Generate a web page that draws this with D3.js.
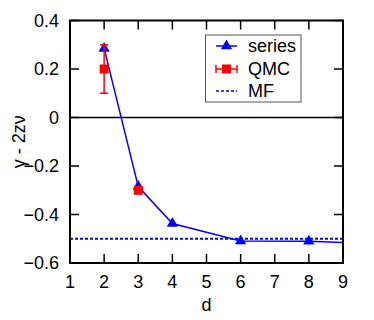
<!DOCTYPE html>
<meta charset="utf-8">
<style>
  body { margin: 0; background: #fff; }
  text { font-family: "Liberation Sans", Arial, sans-serif; font-size: 18px; fill: #000; }
</style>
<svg width="374" height="320"></svg>
<script src="https://cdnjs.cloudflare.com/ajax/libs/d3/7.8.5/d3.min.js"></script>
<script>
// data
var seriesD = [2, 3, 4, 6, 8, 10];
var seriesV = [0.285, -0.285, -0.437, -0.509, -0.51, -0.52];
var qmcD = [2, 3];
var qmcV = [0.2, -0.30];
var qmcErr = [0.1, 0.008];
var mfValue = -0.5;
var xTicks = [1, 2, 3, 4, 5, 6, 7, 8, 9];
var yTicks = [0.4, 0.2, 0, -0.2, -0.4, -0.6];

var svg = d3.select("svg"),
    pLeft = 70, pRight = 343, pTop = 20.5, pBottom = 263;

var x = d3.scaleLinear().domain([1, 9]).range([pLeft, pRight]);
var y = d3.scaleLinear().domain([-0.6, 0.4]).range([pBottom, pTop]);

svg.append("defs").append("clipPath").attr("id", "plotclip")
  .append("rect").attr("x", pLeft).attr("y", pTop)
  .attr("width", pRight - pLeft).attr("height", pBottom - pTop);

// zero line
svg.append("line")
  .attr("x1", pLeft).attr("x2", pRight)
  .attr("y1", y(0)).attr("y2", y(0))
  .attr("stroke", "#000").attr("stroke-width", 1.5);

// ticks, inside on all four sides
var tl = 9;
xTicks.forEach(function(t) {
  svg.append("line").attr("x1", x(t)).attr("x2", x(t)).attr("y1", pBottom).attr("y2", pBottom - tl)
    .attr("stroke", "#000").attr("stroke-width", 1.5);
  svg.append("line").attr("x1", x(t)).attr("x2", x(t)).attr("y1", pTop).attr("y2", pTop + tl)
    .attr("stroke", "#000").attr("stroke-width", 1.5);
  svg.append("text").attr("x", x(t)).attr("y", 288).attr("text-anchor", "middle").text(t);
});
yTicks.forEach(function(t) {
  svg.append("line").attr("x1", pLeft).attr("x2", pLeft + tl).attr("y1", y(t)).attr("y2", y(t))
    .attr("stroke", "#000").attr("stroke-width", 1.5);
  svg.append("line").attr("x1", pRight).attr("x2", pRight - tl).attr("y1", y(t)).attr("y2", y(t))
    .attr("stroke", "#000").attr("stroke-width", 1.5);
  svg.append("text").attr("x", 59).attr("y", y(t)).attr("dy", "0.35em")
    .attr("text-anchor", "end").text(t === 0 ? "0" : d3.format(".1f")(t));
});

var plot = svg.append("g").attr("clip-path", "url(#plotclip)");

// MF dotted line
plot.append("line")
  .attr("x1", pLeft).attr("x2", pRight)
  .attr("y1", y(mfValue)).attr("y2", y(mfValue))
  .attr("stroke", "#0000ff").attr("stroke-width", 2)
  .attr("stroke-dasharray", "3,2");

// series line + triangles
var sData = seriesD.map(function(d, i) { return [d, seriesV[i]]; });
plot.append("path").datum(sData)
  .attr("d", d3.line().x(function(d) { return x(d[0]); }).y(function(d) { return y(d[1]); }))
  .attr("fill", "none").attr("stroke", "#0000ff").attr("stroke-width", 1.5);
var tri = d3.symbol().type(d3.symbolTriangle).size(55);
plot.selectAll(".tri").data(sData).enter().append("path")
  .attr("class", "tri")
  .attr("transform", function(d) { return "translate(" + x(d[0]) + "," + y(d[1]) + ")"; })
  .attr("d", tri).attr("fill", "#0000ff");

// QMC error bars + squares
qmcD.forEach(function(d, i) {
  var cx = x(d), y1 = y(qmcV[i] + qmcErr[i]), y2 = y(qmcV[i] - qmcErr[i]);
  plot.append("line").attr("x1", cx).attr("x2", cx).attr("y1", y1).attr("y2", y2)
    .attr("stroke", "#ff0000").attr("stroke-width", 1.5);
  [y1, y2].forEach(function(yy) {
    plot.append("line").attr("x1", cx - 4).attr("x2", cx + 4).attr("y1", yy).attr("y2", yy)
      .attr("stroke", "#ff0000").attr("stroke-width", 1.5);
  });
  plot.append("rect").attr("x", cx - 4.5).attr("y", y(qmcV[i]) - 4.5)
    .attr("width", 9).attr("height", 9).attr("fill", "#ff0000");
});

// frame
svg.append("rect").attr("x", pLeft).attr("y", pTop)
  .attr("width", pRight - pLeft).attr("height", pBottom - pTop)
  .attr("fill", "none").attr("stroke", "#000").attr("stroke-width", 2);

// legend
var lg = svg.append("g");
lg.append("rect").attr("x", 205.5).attr("y", 35).attr("width", 95.5).attr("height", 67)
  .attr("fill", "#fff").attr("stroke", "#555").attr("stroke-width", 1);
var lx1 = 216, lx2 = 237, lxm = (lx1 + lx2) / 2;
// series
lg.append("line").attr("x1", lx1).attr("x2", lx2).attr("y1", 46).attr("y2", 46)
  .attr("stroke", "#0000ff").attr("stroke-width", 1.5);
lg.append("path").attr("transform", "translate(" + lxm + ",46)").attr("d", tri).attr("fill", "#0000ff");
lg.append("text").attr("x", 248).attr("y", 46).attr("dy", "0.35em").text("series");
// QMC
lg.append("line").attr("x1", lx1).attr("x2", lx2).attr("y1", 69).attr("y2", 69)
  .attr("stroke", "#ff0000").attr("stroke-width", 1.5);
[lx1, lx2].forEach(function(xx) {
  lg.append("line").attr("x1", xx).attr("x2", xx).attr("y1", 65).attr("y2", 73)
    .attr("stroke", "#ff0000").attr("stroke-width", 1.5);
});
lg.append("rect").attr("x", lxm - 4.5).attr("y", 64.5).attr("width", 9).attr("height", 9).attr("fill", "#ff0000");
lg.append("text").attr("x", 248).attr("y", 69).attr("dy", "0.35em").text("QMC");
// MF
lg.append("line").attr("x1", lx1).attr("x2", lx2).attr("y1", 91).attr("y2", 91)
  .attr("stroke", "#0000ff").attr("stroke-width", 1.5).attr("stroke-dasharray", "3,2");
lg.append("text").attr("x", 248).attr("y", 91).attr("dy", "0.35em").text("MF");

// axis titles
svg.append("text").attr("x", x(5)).attr("y", 311).attr("text-anchor", "middle").text("d");
svg.append("text")
  .attr("transform", "translate(25," + ((pTop + pBottom) / 2) + ") rotate(-90)")
  .attr("text-anchor", "middle").text("γ - 2zν");
</script>
